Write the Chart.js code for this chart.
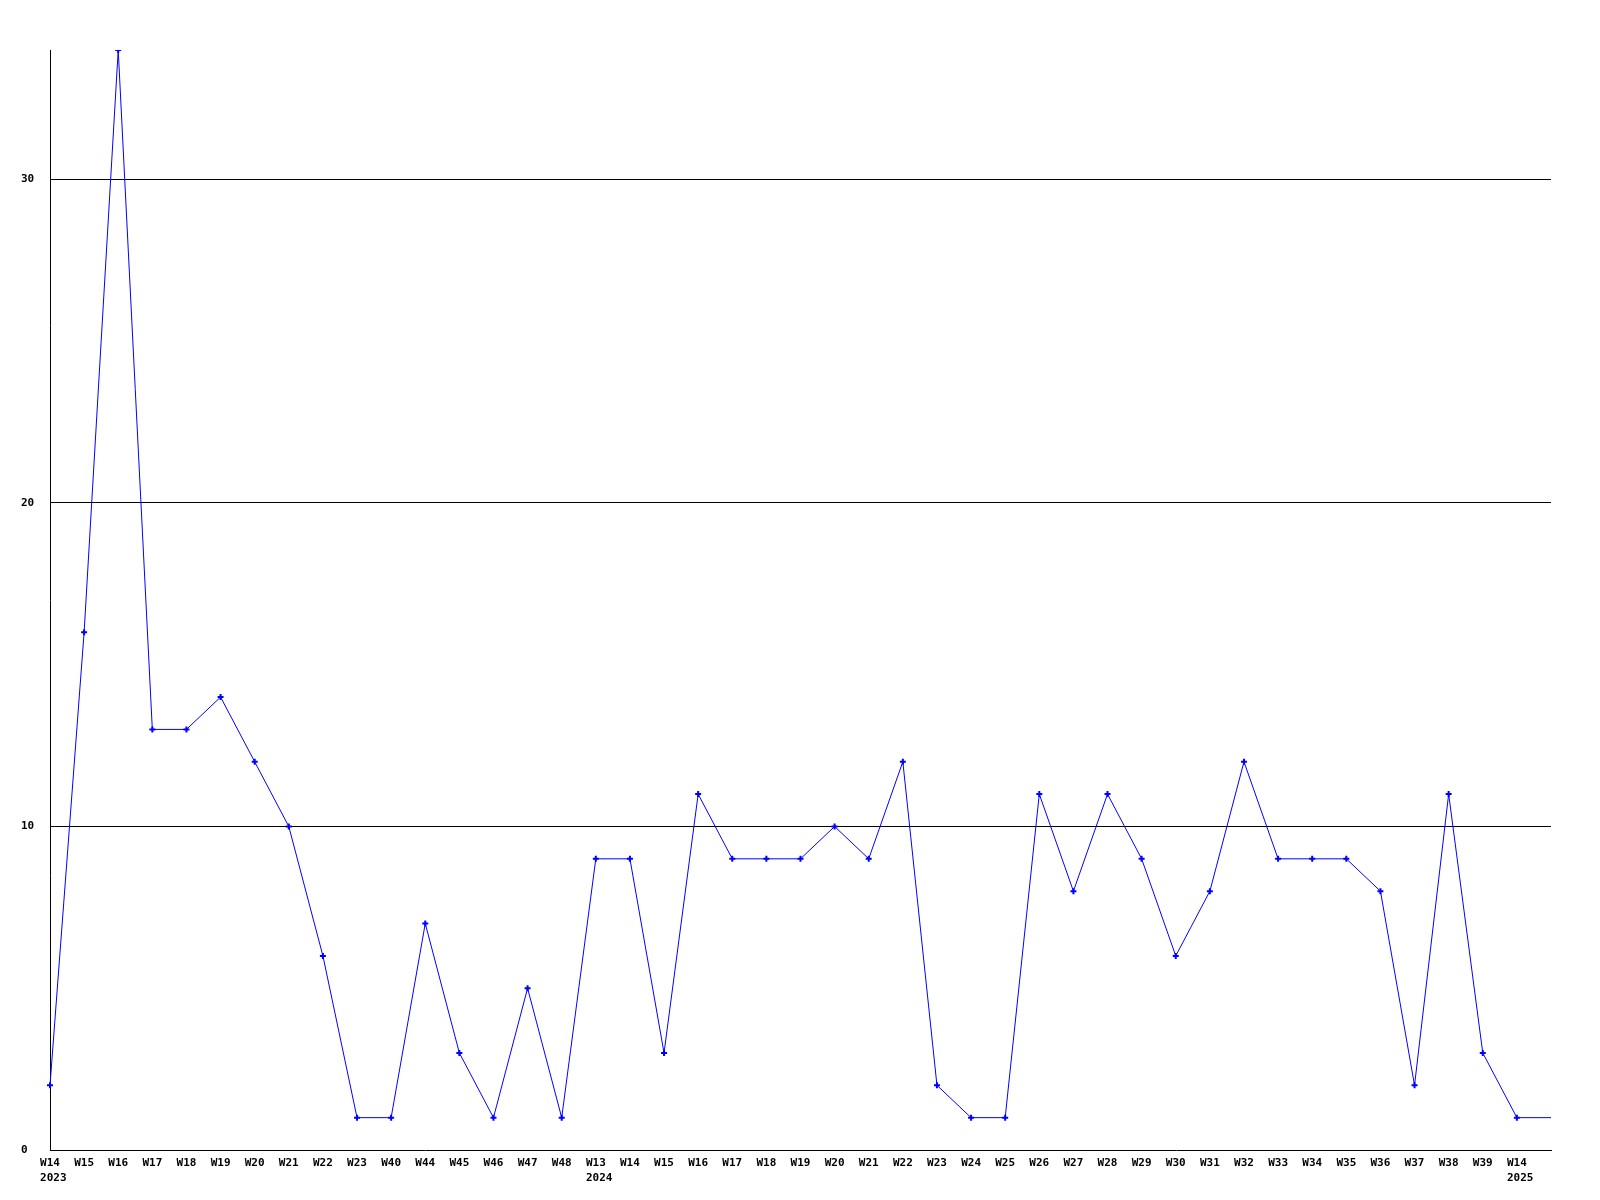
<!DOCTYPE html>
<html>
<head>
<meta charset="utf-8">
<script src="https://cdn.jsdelivr.net/npm/chart.js@4/dist/chart.umd.min.js"></script>
<style>
  html, body { margin: 0; padding: 0; background: #fff; }
  canvas { display: block; }
</style>
</head>
<body>
<canvas id="weekChart" width="1600" height="1200"></canvas>
<script>
// weeks shown on the x axis, "year-week"; the last empty one is the unlabelled tail
var categories = [
    '2023-W14', '2023-W15', '2023-W16', '2023-W17', '2023-W18', '2023-W19', '2023-W20',
    '2023-W21', '2023-W22', '2023-W23', '2023-W40', '2023-W44', '2023-W45', '2023-W46',
    '2023-W47', '2023-W48',
    '2024-W13', '2024-W14', '2024-W15', '2024-W16', '2024-W17', '2024-W18', '2024-W19',
    '2024-W20', '2024-W21', '2024-W22', '2024-W23', '2024-W24', '2024-W25', '2024-W26',
    '2024-W27', '2024-W28', '2024-W29', '2024-W30', '2024-W31', '2024-W32', '2024-W33',
    '2024-W34', '2024-W35', '2024-W36', '2024-W37', '2024-W38', '2024-W39',
    '2025-W14', ''
];

var counts = [
    2, 16, 34, 13, 13, 14, 12, 10, 6, 1, 1, 7, 3, 1, 5, 1,
    9, 9, 3, 11, 9, 9, 9, 10, 9, 12, 2, 1, 1, 11, 8, 11, 9, 6, 8, 12, 9, 9, 9, 8, 2, 11, 3,
    1, 1
];

var yTicks = [0, 10, 20, 30];
var yMax = 34;

var FONT = { family: '"DejaVu Sans Mono", monospace', size: 11, weight: 'bold', lineHeight: 1.4 };

function weekLabel(index) {
    var cat = categories[index];
    if (!cat) {
        return '';
    }
    var parts = cat.split('-');
    var prev = index > 0 ? categories[index - 1].split('-')[0] : null;
    if (parts[0] !== prev) {
        // year printed under the first week of each year, left aligned with it
        return [parts[1], ' ' + parts[0]];
    }
    return parts[1];
}

var lastIndex = counts.length - 1;

new Chart(document.getElementById('weekChart'), {
    type: 'line',
    data: {
        labels: categories,
        datasets: [{
            data: counts,
            borderColor: '#0000ff',
            borderWidth: 1,
            backgroundColor: '#0000ff',
            pointStyle: 'cross',
            pointRadius: function(ctx) {
                return ctx.dataIndex === lastIndex ? 0 : 3;
            },
            pointBorderWidth: 2,
            pointBorderColor: '#0000ff',
            tension: 0,
            fill: false
        }]
    },
    options: {
        responsive: false,
        animation: false,
        layout: {
            padding: { top: 50, right: 49, left: 21, bottom: 0 }
        },
        plugins: {
            legend: { display: false },
            tooltip: { enabled: false }
        },
        scales: {
            x: {
                offset: false,
                grid: { display: false, drawTicks: false },
                border: { display: true, color: '#000', width: 1 },
                ticks: {
                    autoSkip: false,
                    maxRotation: 0,
                    minRotation: 0,
                    padding: 5,
                    color: '#000',
                    font: FONT,
                    callback: function(value, index) {
                        return weekLabel(index);
                    }
                },
                afterFit: function(scale) {
                    scale.height = 50;
                }
            },
            y: {
                min: 0,
                max: yMax,
                afterBuildTicks: function(scale) {
                    scale.ticks = yTicks.map(function(v) { return { value: v }; });
                },
                grid: {
                    drawTicks: false,
                    color: function(ctx) {
                        return ctx.tick && ctx.tick.value === 0 ? 'rgba(0,0,0,0)' : '#000';
                    },
                    lineWidth: 1
                },
                border: { display: true, color: '#000', width: 1 },
                ticks: {
                    crossAlign: 'far',
                    color: '#000',
                    font: FONT
                },
                afterFit: function(scale) {
                    scale.width = 29;
                }
            }
        }
    }
});
</script>
</body>
</html>
